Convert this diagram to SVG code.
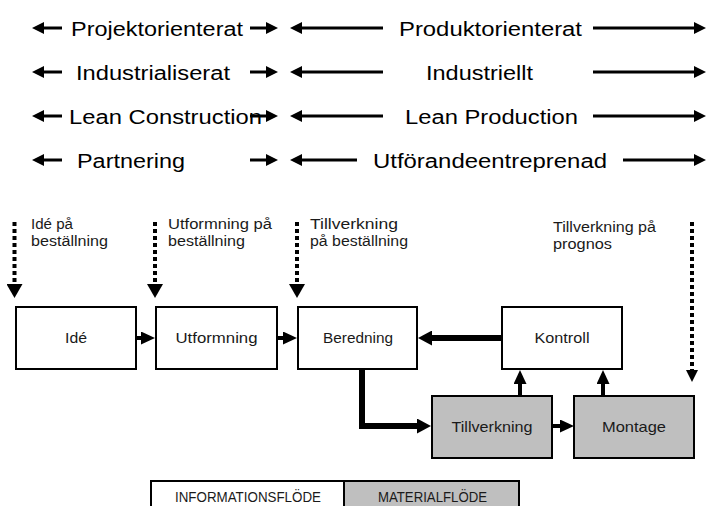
<svg xmlns="http://www.w3.org/2000/svg" width="707" height="506" viewBox="0 0 707 506">
<style>
.t{font-family:"Liberation Sans",Arial,sans-serif;font-size:20px;fill:#000}
.l{font-family:"Liberation Sans",Arial,sans-serif;font-size:14px;fill:#1a1a1a}
.b{font-family:"Liberation Sans",Arial,sans-serif;font-size:15px;fill:#1a1a1a}
.c{text-anchor:middle}
.a{stroke:#000;stroke-width:3;fill:none}
.box{fill:#fff;stroke:#000;stroke-width:2}
.gray{fill:#bfbfbf;stroke:#000;stroke-width:2}
.f{stroke:#000;stroke-width:4;fill:none}
.fk{stroke:#000;stroke-width:6;fill:none}
.d{stroke:#000;stroke-width:4;stroke-dasharray:4 3;fill:none}
</style>
<defs>
<marker id="hT" markerUnits="userSpaceOnUse" markerWidth="12" markerHeight="12" refX="0" refY="6" orient="auto"><path d="M0,0L12,6L0,12z" fill="#000"/></marker>
<marker id="hS" markerUnits="userSpaceOnUse" markerWidth="14" markerHeight="13" refX="0" refY="6.5" orient="auto"><path d="M0,0L14,6.5L0,13z" fill="#000"/></marker>
<marker id="hK" markerUnits="userSpaceOnUse" markerWidth="14" markerHeight="15" refX="0" refY="7.5" orient="auto"><path d="M0,0L14,7.5L0,15z" fill="#000"/></marker>
<marker id="hD" markerUnits="userSpaceOnUse" markerWidth="14" markerHeight="16" refX="0" refY="8" orient="auto"><path d="M0,0L14,8L0,16z" fill="#000"/></marker>
<marker id="hD2" markerUnits="userSpaceOnUse" markerWidth="12" markerHeight="12" refX="0" refY="6" orient="auto"><path d="M0,0L12,6L0,12z" fill="#000"/></marker>
</defs>

<g id="scale">
<g id="row1">
<path class="a" d="M62,28H44" marker-end="url(#hT)"/>
<text class="t" x="71" y="35.5" textLength="172" lengthAdjust="spacingAndGlyphs">Projektorienterat</text>
<path class="a" d="M250,28H266" marker-end="url(#hT)"/>
<path class="a" d="M383,28H302" marker-end="url(#hT)"/>
<text class="t" x="399" y="35.5" textLength="183" lengthAdjust="spacingAndGlyphs">Produktorienterat</text>
<path class="a" d="M593,28H694" marker-end="url(#hT)"/>
</g>
<g id="row2">
<path class="a" d="M62,72H44" marker-end="url(#hT)"/>
<text class="t" x="76" y="79.5" textLength="154" lengthAdjust="spacingAndGlyphs">Industrialiserat</text>
<path class="a" d="M250,72H266" marker-end="url(#hT)"/>
<path class="a" d="M383,72H302" marker-end="url(#hT)"/>
<text class="t" x="426" y="79.5" textLength="107" lengthAdjust="spacingAndGlyphs">Industriellt</text>
<path class="a" d="M593,72H694" marker-end="url(#hT)"/>
</g>
<g id="row3">
<path class="a" d="M62,116H44" marker-end="url(#hT)"/>
<text class="t" x="69" y="123.5" textLength="193" lengthAdjust="spacingAndGlyphs">Lean Construction</text>
<path class="a" d="M250,116H266" marker-end="url(#hT)"/>
<path class="a" d="M383,116H302" marker-end="url(#hT)"/>
<text class="t" x="405" y="123.5" textLength="173" lengthAdjust="spacingAndGlyphs">Lean Production</text>
<path class="a" d="M593,116H694" marker-end="url(#hT)"/>
</g>
<g id="row4">
<path class="a" d="M62,160H44" marker-end="url(#hT)"/>
<text class="t" x="77" y="167.5" textLength="108" lengthAdjust="spacingAndGlyphs">Partnering</text>
<path class="a" d="M250,160H266" marker-end="url(#hT)"/>
<path class="a" d="M357,160H302" marker-end="url(#hT)"/>
<text class="t" x="373" y="167.5" textLength="234" lengthAdjust="spacingAndGlyphs">Utförandeentreprenad</text>
<path class="a" d="M623,160H694" marker-end="url(#hT)"/>
</g>
</g>

<g id="labels">
<text class="l" x="31" y="229" textLength="42" lengthAdjust="spacingAndGlyphs">Idé på</text>
<text class="l" x="31" y="246" textLength="77" lengthAdjust="spacingAndGlyphs">beställning</text>
<text class="l" x="168" y="229" textLength="104" lengthAdjust="spacingAndGlyphs">Utformning på</text>
<text class="l" x="168" y="246" textLength="77" lengthAdjust="spacingAndGlyphs">beställning</text>
<text class="l" x="310" y="229" textLength="88" lengthAdjust="spacingAndGlyphs">Tillverkning</text>
<text class="l" x="310" y="246" textLength="98" lengthAdjust="spacingAndGlyphs">på beställning</text>
<text class="l" x="553" y="232" textLength="103" lengthAdjust="spacingAndGlyphs">Tillverkning på</text>
<text class="l" x="553" y="249" textLength="59" lengthAdjust="spacingAndGlyphs">prognos</text>
</g>

<g id="connectors">
<path class="d" d="M14.5,222V284" marker-end="url(#hD)"/>
<path class="d" d="M155,222V284" marker-end="url(#hD)"/>
<path class="d" d="M297,222V284" marker-end="url(#hD)"/>
<path class="d" d="M692,222V370" marker-end="url(#hD2)"/>
<path class="f" d="M137,338H141" marker-end="url(#hS)"/>
<path class="f" d="M278,338H283" marker-end="url(#hS)"/>
<path class="fk" d="M501,338H432" marker-end="url(#hK)"/>
<path class="fk" d="M362,370V426H417" marker-end="url(#hK)"/>
<path class="f" d="M553,426H560" marker-end="url(#hS)"/>
<path class="f" d="M520,395V384" marker-end="url(#hS)"/>
<path class="f" d="M603,395V384" marker-end="url(#hS)"/>
</g>

<g id="n-ide"><rect class="box" x="16" y="307" width="120" height="62"/><text class="b c" x="76" y="343" textLength="22" lengthAdjust="spacingAndGlyphs">Idé</text></g>
<g id="n-utformning"><rect class="box" x="156" y="307" width="121" height="62"/><text class="b c" x="216.5" y="343" textLength="82" lengthAdjust="spacingAndGlyphs">Utformning</text></g>
<g id="n-beredning"><rect class="box" x="298" y="307" width="119" height="62"/><text class="b c" x="358" y="343" textLength="70" lengthAdjust="spacingAndGlyphs">Beredning</text></g>
<g id="n-kontroll"><rect class="box" x="502" y="307" width="120" height="62"/><text class="b c" x="562" y="343" textLength="55" lengthAdjust="spacingAndGlyphs">Kontroll</text></g>
<g id="n-tillverkning"><rect class="gray" x="432" y="396" width="120" height="62"/><text class="b c" x="492" y="432" textLength="81" lengthAdjust="spacingAndGlyphs">Tillverkning</text></g>
<g id="n-montage"><rect class="gray" x="574" y="396" width="120" height="62"/><text class="b c" x="634" y="432" textLength="64" lengthAdjust="spacingAndGlyphs">Montage</text></g>

<g id="legend">
<rect class="box" x="151" y="481" width="193" height="40"/>
<rect class="gray" x="344" y="481" width="175" height="40"/>
<text class="l" x="175" y="502" textLength="146" lengthAdjust="spacingAndGlyphs">INFORMATIONSFLÖDE</text>
<text class="l" x="378" y="502" textLength="109" lengthAdjust="spacingAndGlyphs">MATERIALFLÖDE</text>
</g>
</svg>
